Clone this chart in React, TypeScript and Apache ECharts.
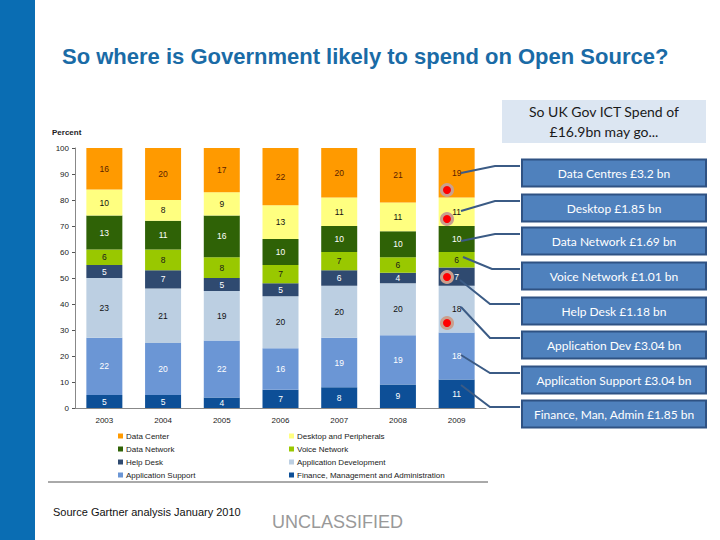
import React, { useEffect, useRef } from "react";
import * as echarts from "echarts";

const years = ["2003", "2004", "2005", "2006", "2007", "2008", "2009"];
const finance = [5, 5, 4, 7, 8, 9, 11];
const appSupport = [22, 20, 22, 16, 19, 19, 18];
const appDev = [23, 21, 19, 20, 20, 20, 18];
const helpDesk = [5, 7, 5, 5, 6, 4, 7];
const voiceNet = [6, 8, 8, 7, 7, 6, 6];
const dataNet = [13, 11, 16, 10, 10, 10, 10];
const desktop = [10, 8, 9, 13, 11, 11, 11];
const dataCenter = [16, 20, 17, 22, 20, 21, 19];

const yTicks = { min: 0, max: 100, interval: 10 };

const callouts = [
  "Data Centres £3.2 bn",
  "Desktop £1.85 bn",
  "Data Network £1.69 bn",
  "Voice Network £1.01 bn",
  "Help Desk £1.18 bn",
  "Application Dev £3.04 bn",
  "Application Support £3.04 bn",
  "Finance, Man, Admin £1.85 bn",
];

export default function App() {
  const ref = useRef<HTMLDivElement>(null);
  useEffect(() => {
    document.body.style.margin = "0";
    const chart = echarts.init(ref.current!, null, { renderer: "svg" });
    const font = "Liberation Sans, Arial, sans-serif";
    const mk = (name: string, data: number[], color: string, labelColor: string) => ({
      name,
      type: "bar",
      stack: "s",
      data,
      barWidth: 36,
      itemStyle: { color },
      label: {
        show: true,
        position: "inside",
        fontSize: 8.5,
        fontFamily: font,
        color: labelColor,
      },
      emphasis: { disabled: true },
    });

    const boxCenters = [173, 208, 241, 276, 311, 345, 380, 414];
    const lineStarts: [number, number][] = [
      [461, 173],
      [461, 211],
      [461, 241],
      [463, 257],
      [460, 280],
      [461, 307],
      [461, 355],
      [461, 385],
    ];
    const elbowX = [495, 495, 495, 492, 490, 490, 490, 490];

    const graphics: any[] = [
      { type: "rect", shape: { x: 0, y: 0, width: 35, height: 540 }, style: { fill: "#0A6DB3" } },
      {
        type: "text",
        x: 62,
        y: 45,
        style: {
          text: "So where is Government likely to spend on Open Source?",
          font: "bold 22px " + font,
          fill: "#1A6BA6",
        },
      },
      {
        type: "text",
        x: 52,
        y: 128,
        style: { text: "Percent", font: "bold 8px " + font, fill: "#222" },
      },
      { type: "rect", shape: { x: 502, y: 100, width: 204, height: 43 }, style: { fill: "#DCE6F2" } },
      {
        type: "text",
        x: 604,
        y: 121.5,
        style: {
          text: "So UK Gov ICT Spend of\n£16.9bn may go...",
          font: "14px Lato, sans-serif",
          lineHeight: 20,
          fill: "#1a1a1a",
          align: "center",
          verticalAlign: "middle",
        },
      },
      {
        type: "line",
        shape: { x1: 48, y1: 482, x2: 488, y2: 482 },
        style: { stroke: "#555", lineWidth: 1 },
      },
      {
        type: "text",
        x: 53,
        y: 506,
        style: { text: "Source Gartner analysis January 2010", font: "11px " + font, fill: "#111" },
      },
      {
        type: "text",
        x: 272,
        y: 513,
        style: { text: "UNCLASSIFIED", font: "18px " + font, fill: "#999" },
      },
    ];

    callouts.forEach((t, i) => {
      const cy = boxCenters[i];
      graphics.push({
        type: "rect",
        shape: { x: 522, y: cy - 13.5, width: 184, height: 27 },
        style: { fill: "#4F81BD", stroke: "#2F5283", lineWidth: 2 },
      });
      graphics.push({
        type: "text",
        x: 614,
        y: cy,
        style: {
          text: t,
          font: "12px Lato, sans-serif",
          fill: "#fff",
          align: "center",
          verticalAlign: "middle",
        },
      });
      const ly = cy - 7;
      graphics.push({
        type: "polyline",
        shape: { points: [lineStarts[i], [elbowX[i], ly], [520, ly]] },
        style: { stroke: "#3B5B85", lineWidth: 2, fill: null },
        z: 100,
      });
    });

    const dots = [190, 219, 277, 323];
    dots.forEach((y) => {
      graphics.push({
        type: "circle",
        shape: { cx: 447, cy: y, r: 5.5 },
        style: { fill: "#F00", stroke: "#C9A08E", lineWidth: 3 },
        z: 100,
      });
    });

    const legendText = { fontSize: 8, color: "#222", fontFamily: font, padding: [0, 0, 0, -2] };
    chart.setOption({
      animation: false,
      textStyle: { fontFamily: font },
      grid: { left: 75, right: 234, top: 148, bottom: 132 },
      legend: [
        {
          left: 113,
          top: 427,
          orient: "vertical",
          itemWidth: 5,
          itemHeight: 5,
          itemGap: 5,
          icon: "rect",
          textStyle: legendText,
          data: ["Data Center", "Data Network", "Help Desk", "Application Support"],
        },
        {
          left: 284,
          top: 427,
          orient: "vertical",
          itemWidth: 5,
          itemHeight: 5,
          itemGap: 5,
          icon: "rect",
          textStyle: legendText,
          data: [
            "Desktop and Peripherals",
            "Voice Network",
            "Application Development",
            "Finance, Management and Administration",
          ],
        },
      ],
      xAxis: {
        type: "category",
        data: years,
        axisLine: { lineStyle: { color: "#888" } },
        axisTick: { length: 4, lineStyle: { color: "#555" } },
        axisLabel: { fontSize: 8, color: "#222", margin: 8 },
      },
      yAxis: {
        type: "value",
        min: yTicks.min,
        max: yTicks.max,
        interval: yTicks.interval,
        splitLine: { show: false },
        axisLine: { show: true, lineStyle: { color: "#888" } },
        axisTick: { show: true, length: 3, lineStyle: { color: "#555" } },
        axisLabel: { fontSize: 8, color: "#222", margin: 6 },
      },
      series: [
        mk("Finance, Management and Administration", finance, "#0D4F97", "#fff"),
        mk("Application Support", appSupport, "#6B96D5", "#fff"),
        mk("Application Development", appDev, "#BCCFE2", "#111"),
        mk("Help Desk", helpDesk, "#2F4A70", "#fff"),
        mk("Voice Network", voiceNet, "#99C800", "#1a1a1a"),
        mk("Data Network", dataNet, "#2F6206", "#fff"),
        mk("Desktop and Peripherals", desktop, "#FFFF80", "#111"),
        mk("Data Center", dataCenter, "#FF9A00", "#5A1E00"),
      ],
      graphic: graphics,
    });
    return () => chart.dispose();
  }, []);
  return <div ref={ref} style={{ width: 720, height: 540 }} />;
}
